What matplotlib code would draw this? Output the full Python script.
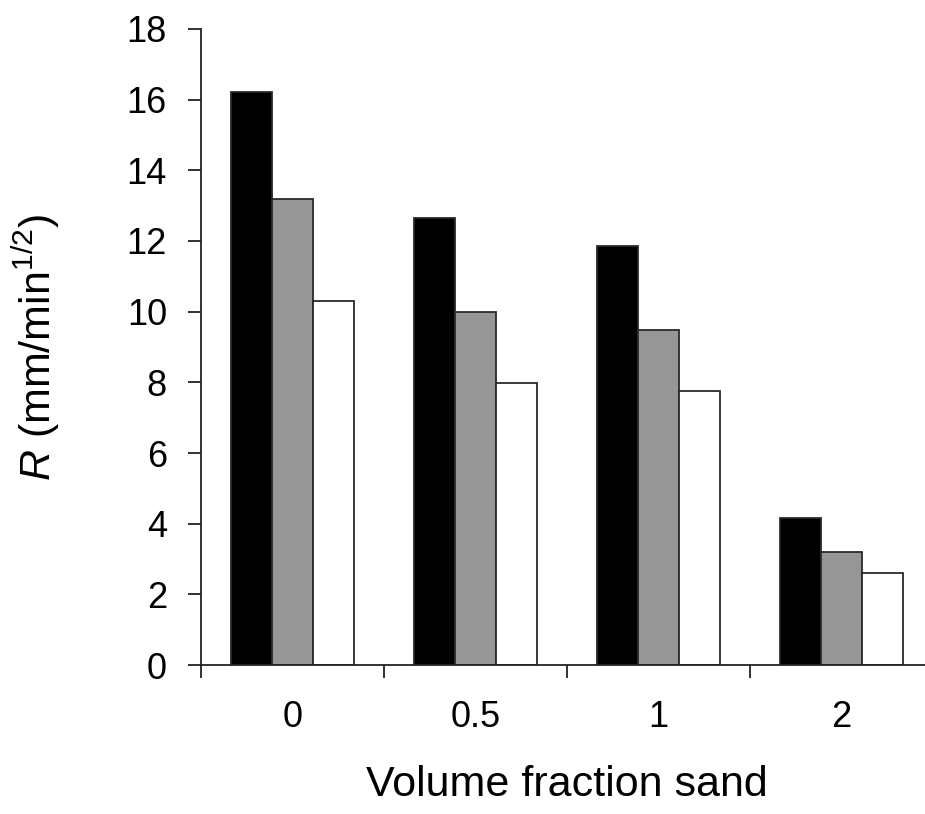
import matplotlib
matplotlib.use("Agg")
import matplotlib.pyplot as plt
import numpy as np

plt.rcParams['font.family'] = ['Liberation Sans', 'DejaVu Sans']
plt.rcParams['mathtext.fontset'] = 'custom'
plt.rcParams['mathtext.rm'] = 'Liberation Sans'
plt.rcParams['mathtext.it'] = 'Liberation Sans:italic'

# Sand volume fractions and the three measured series of R
categories = ["0", "0.5", "1", "2"]
series_black = [16.22, 12.66, 11.87, 4.17]
series_gray = [13.20, 9.98, 9.48, 3.20]
series_white = [10.31, 7.97, 7.76, 2.61]
y_ticks = [0, 2, 4, 6, 8, 10, 12, 14, 16, 18]

fig = plt.figure(figsize=(9.25, 8.14), dpi=100)
ax = fig.add_axes([0.2173, 0.183, 0.7914, 0.7814])

x = np.arange(len(categories))
w = 0.224
edge = "#2a2a2a"
ax.bar(x - w, series_black, w, color="black", edgecolor=edge, linewidth=1.3)
ax.bar(x, series_gray, w, color="#969696", edgecolor=edge, linewidth=1.3)
ax.bar(x + w, series_white, w, color="white", edgecolor=edge, linewidth=1.3)

ax.set_xlim(-0.5, len(categories) - 0.5)
ax.set_ylim(0, 18)
ax.set_yticks(y_ticks)
ax.set_yticklabels([str(t) for t in y_ticks])

# Category boundaries carry the tick marks; labels sit at the centres
ax.set_xticks(np.arange(len(categories) + 1) - 0.5)
ax.set_xticklabels([])
ax.set_xticks(x, minor=True)
ax.set_xticklabels(categories, minor=True)

for s in ("top", "right"):
    ax.spines[s].set_visible(False)
for s in ("left", "bottom"):
    ax.spines[s].set_linewidth(1.3)
    ax.spines[s].set_color("#222222")

ax.tick_params(axis="y", which="major", direction="out", length=9.5, width=1.3,
               color="#222222", labelsize=26, pad=15)
ax.tick_params(axis="x", which="major", direction="out", length=9.5, width=1.3,
               color="#222222")
ax.tick_params(axis="x", which="minor", length=0, labelsize=26, pad=25)

ax.set_xlabel("Volume fraction sand", fontsize=31, labelpad=22)
ax.set_ylabel(r"$\mathit{R}$ (mm/min$^{\mathrm{1/2}}$)", fontsize=31)
ax.yaxis.set_label_coords(-0.19, 0.5)

fig.savefig("out.png", dpi=100)
